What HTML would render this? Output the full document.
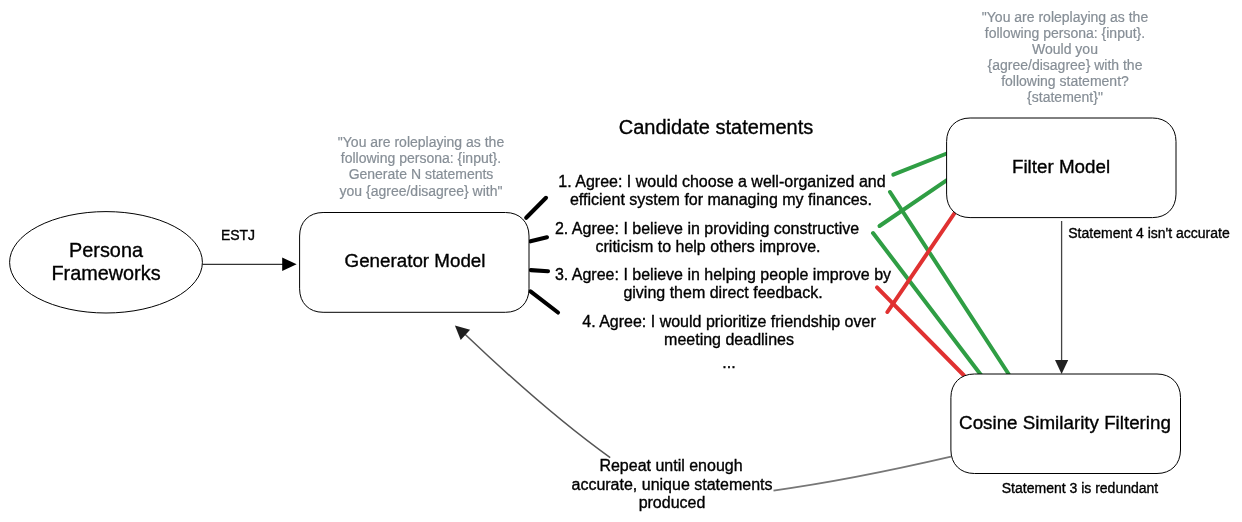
<!DOCTYPE html>
<html>
<head>
<meta charset="utf-8">
<title>Persona statement generation pipeline</title>
<style>
html,body{margin:0;padding:0;background:#fff;}
body{width:1242px;height:522px;position:relative;overflow:hidden;font-family:"Liberation Sans",Arial,Helvetica,sans-serif;color:#000;}
svg{position:absolute;left:0;top:0;}
.t{will-change:transform;-webkit-text-stroke:0.35px currentColor;position:absolute;text-align:center;white-space:nowrap;transform:translateX(-50%);line-height:24px;height:24px;}
.g{color:#868e96;font-size:14px;-webkit-text-stroke-width:0.2px;}
.s{font-size:16px;}
.b{font-size:18.8px;}
.c{font-size:20px;}
.p{font-size:19.85px;}
.l{font-size:14px;}
</style>
</head>
<body>
<svg width="1242" height="522" viewBox="0 0 1242 522">
  <!-- arrow persona -> generator -->
  <line x1="202.4" y1="264.3" x2="284" y2="264.3" stroke="#000" stroke-width="1.0"/>
  <polygon points="296.6,264.3 282.2,257.6 282.2,271" fill="#000"/>
  <!-- arrow filter -> cosine -->
  <line x1="1061.6" y1="221" x2="1061.6" y2="362" stroke="#444" stroke-width="1.3"/>
  <polygon points="1061.6,374 1055,360 1068.2,360" fill="#222"/>
  <!-- black spokes -->
  <g stroke="#000" stroke-width="4.1" stroke-linecap="round">
    <line x1="526.2" y1="217.8" x2="546" y2="197.8"/>
    <line x1="530.5" y1="241.3" x2="547" y2="237.3"/>
    <line x1="530.8" y1="270.1" x2="548" y2="271.2"/>
    <line x1="530.5" y1="291.3" x2="558" y2="312.5"/>
  </g>
  <!-- green/red -->
  <g stroke-width="4" stroke-linecap="round" fill="none">
    <line x1="893.3" y1="174.7" x2="948" y2="153" stroke="#2f9e44"/>
    <line x1="879.5" y1="226" x2="948" y2="179.3" stroke="#2f9e44"/>
    <line x1="890" y1="192" x2="1008.6" y2="374" stroke="#2f9e44"/>
    <line x1="873" y1="233" x2="981" y2="375" stroke="#2f9e44"/>
    <line x1="956" y1="211" x2="887.4" y2="312" stroke="#e03131"/>
    <line x1="877" y1="287.3" x2="964" y2="375.5" stroke="#e03131"/>
  </g>
  <!-- feedback curve -->
  <path d="M 951 456.7 Q 851 479.9 773.5 490.6" fill="none" stroke="#777" stroke-width="1.7"/>
  <path d="M 610.2 457.7 Q 546.8 412.2 465 334.2" fill="none" stroke="#555" stroke-width="1.5"/>
  <polygon points="454.9,325.5 470.1,329.8 460.7,339.9" fill="#1e1e1e"/>
  <ellipse cx="106" cy="262.3" rx="96.4" ry="50.7" fill="#fff" stroke="#000" stroke-width="1.0"/>
  <path d="M323.10,212.50 H505.50 C519.60,212.50 529.00,221.90 529.00,236.00 V288.80 C529.00,302.90 519.60,312.30 505.50,312.30 H323.10 C309.00,312.30 299.60,302.90 299.60,288.80 V236.00 C299.60,221.90 309.00,212.50 323.10,212.50 Z" fill="#fff" stroke="#000" stroke-width="1.0"/>
  <path d="M970.10,118.00 H1152.50 C1166.60,118.00 1176.00,127.40 1176.00,141.50 V194.10 C1176.00,208.20 1166.60,217.60 1152.50,217.60 H970.10 C956.00,217.60 946.60,208.20 946.60,194.10 V141.50 C946.60,127.40 956.00,118.00 970.10,118.00 Z" fill="#fff" stroke="#000" stroke-width="1.0"/>
  <path d="M974.40,374.00 H1157.00 C1171.10,374.00 1180.50,383.40 1180.50,397.50 V450.00 C1180.50,464.10 1171.10,473.50 1157.00,473.50 H974.40 C960.30,473.50 950.90,464.10 950.90,450.00 V397.50 C950.90,383.40 960.30,374.00 974.40,374.00 Z" fill="#fff" stroke="#000" stroke-width="1.0"/>
</svg>

<div class="t p" style="left:106.2px;top:238px;">Persona</div>
<div class="t p" style="left:106.2px;top:261px;">Frameworks</div>
<div class="t l" style="left:238px;top:223px;">ESTJ</div>
<div class="t g" style="left:420.8px;top:130px;">"You are roleplaying as the</div>
<div class="t g" style="left:420.8px;top:146px;">following persona: {input}.</div>
<div class="t g" style="left:420.8px;top:162px;">Generate N statements</div>
<div class="t g" style="left:420.8px;top:179px;">you {agree/disagree} with"</div>
<div class="t b" style="left:414.8px;top:249px;">Generator Model</div>
<div class="t c" style="left:716px;top:115px;">Candidate statements</div>
<div class="t s" style="left:722px;top:170px;">1. Agree: I would choose a well-organized and</div>
<div class="t s" style="left:721.2px;top:188px;">efficient system for managing my finances.</div>
<div class="t s" style="left:707px;top:217px;">2. Agree: I believe in providing constructive</div>
<div class="t s" style="left:707.6px;top:235px;">criticism to help others improve.</div>
<div class="t s" style="left:722.5px;top:263px;">3. Agree: I believe in helping people improve by</div>
<div class="t s" style="left:722.5px;top:281px;">giving them direct feedback.</div>
<div class="t s" style="left:729px;top:310px;">4. Agree: I would prioritize friendship over</div>
<div class="t s" style="left:729px;top:328px;">meeting deadlines</div>
<div class="t s" style="left:729px;top:351px;">...</div>
<div class="t g" style="left:1065px;top:5px;">"You are roleplaying as the</div>
<div class="t g" style="left:1065px;top:21px;">following persona: {input}.</div>
<div class="t g" style="left:1065px;top:37px;">Would you</div>
<div class="t g" style="left:1065px;top:53px;">{agree/disagree} with the</div>
<div class="t g" style="left:1065px;top:69px;">following statement?</div>
<div class="t g" style="left:1065px;top:85px;">{statement}"</div>
<div class="t b" style="left:1061.4px;top:155px;">Filter Model</div>
<div class="t b" style="left:1064.8px;top:411px;">Cosine Similarity Filtering</div>
<div class="t l" style="left:1148.5px;top:221px;">Statement 4 isn't accurate</div>
<div class="t l" style="left:1080px;top:476px;">Statement 3 is redundant</div>
<div class="t s" style="left:670.7px;top:454px;">Repeat until enough</div>
<div class="t s" style="left:672.1px;top:473px;">accurate, unique statements</div>
<div class="t s" style="left:672.1px;top:491px;">produced</div>
</body>
</html>
